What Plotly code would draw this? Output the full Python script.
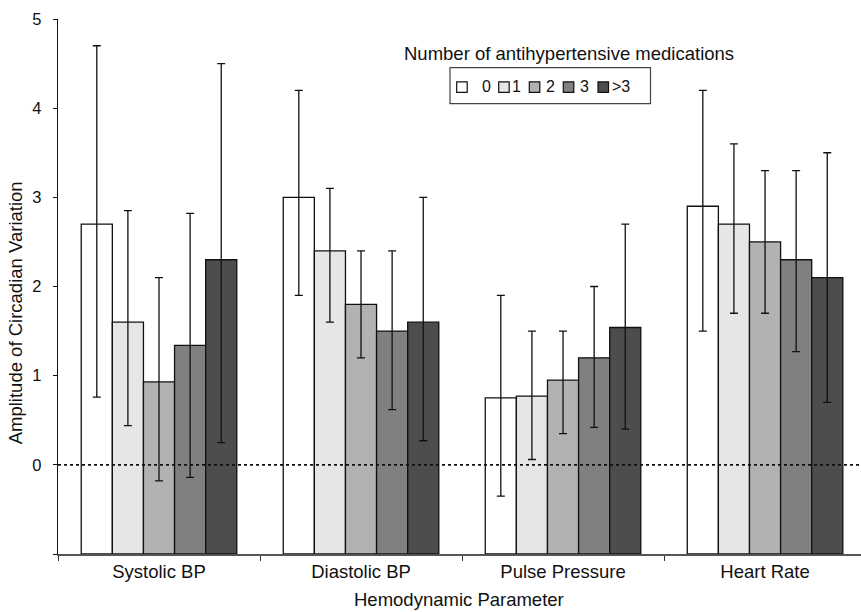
import plotly.graph_objects as go

categories = ["Systolic BP", "Diastolic BP", "Pulse Pressure", "Heart Rate"]
groups = ["0", "1", "2", "3", ">3"]

mean_0 = [2.7, 3.0, 0.75, 2.9]
mean_1 = [1.6, 2.4, 0.77, 2.7]
mean_2 = [0.93, 1.8, 0.95, 2.5]
mean_3 = [1.34, 1.5, 1.2, 2.3]
mean_4 = [2.3, 1.6, 1.54, 2.1]

upper_0 = [4.7, 4.2, 1.9, 4.2]
upper_1 = [2.85, 3.1, 1.5, 3.6]
upper_2 = [2.1, 2.4, 1.5, 3.3]
upper_3 = [2.82, 2.4, 2.0, 3.3]
upper_4 = [4.5, 3.0, 2.7, 3.5]

lower_0 = [0.76, 1.9, -0.35, 1.5]
lower_1 = [0.44, 1.6, 0.06, 1.7]
lower_2 = [-0.18, 1.2, 0.35, 1.7]
lower_3 = [-0.14, 0.62, 0.42, 1.27]
lower_4 = [0.25, 0.27, 0.4, 0.7]

y_min, y_max = -1, 5
y_tick_vals = [-1, 0, 1, 2, 3, 4, 5]
y_tick_text = ["", "0", "1", "2", "3", "4", "5"]

means = [mean_0, mean_1, mean_2, mean_3, mean_4]
uppers = [upper_0, upper_1, upper_2, upper_3, upper_4]
lowers = [lower_0, lower_1, lower_2, lower_3, lower_4]
colors = ["#ffffff", "#e6e6e6", "#b2b2b2", "#808080", "#4d4d4d"]

FONT = "Liberation Sans, Arial, sans-serif"
W, H = 861, 612
L, R, T, B = 58, 0, 18.7, 58.3

fig = go.Figure()
for g, m, u, lo, c in zip(groups, means, uppers, lowers, colors):
    fig.add_trace(go.Bar(
        x=categories, y=[v - y_min for v in m], base=y_min, name=g,
        marker=dict(color=c, line=dict(color="#111111", width=1.3)),
        error_y=dict(type="data", symmetric=False,
                     array=[a - b for a, b in zip(u, m)],
                     arrayminus=[b - a for a, b in zip(lo, m)],
                     color="#111111", thickness=1.3, width=4),
        showlegend=False,
    ))

def px_x(px):
    return (px - L) / (W - L - R)

def px_y(py):
    return (H - B - py) / (H - B - T)

shapes = [
    dict(type="line", xref="paper", yref="y", x0=0, x1=1, y0=0, y1=0,
         line=dict(color="#111111", width=1.6, dash="dot"), layer="above"),
    dict(type="rect", xref="paper", yref="paper",
         x0=px_x(450), x1=px_x(650.5), y0=px_y(103.3), y1=px_y(67.3),
         line=dict(color="#444444", width=1.2), fillcolor="white"),
]
annotations = [
    dict(text="Number of antihypertensive medications", xref="paper", yref="paper",
         x=px_x(569), y=px_y(53), showarrow=False, xanchor="center", yanchor="middle",
         font=dict(family=FONT, size=18.5, color="#111111")),
    dict(text="Hemodynamic Parameter", xref="paper", yref="paper",
         x=px_x(459), y=px_y(611.5), showarrow=False, xanchor="center", yanchor="bottom",
         font=dict(family=FONT, size=18.5, color="#111111")),
    dict(text="Amplitude of Circadian Variation", xref="paper", yref="paper",
         x=px_x(15), y=px_y(313), showarrow=False, xanchor="center", yanchor="middle",
         textangle=-90, font=dict(family=FONT, size=18.5, color="#111111")),
]
sq_left = [456.7, 498.7, 529.3, 563.3, 598]
txt_left = [479.5, 509.5, 544, 578, 610]
for g, c, sx, tx in zip(groups, colors, sq_left, txt_left):
    shapes.append(dict(type="rect", xref="paper", yref="paper",
                       x0=px_x(sx), x1=px_x(sx + 10.5), y0=px_y(92), y1=px_y(81.5),
                       line=dict(color="#111111", width=1.2), fillcolor=c))
    annotations.append(dict(text=g, xref="paper", yref="paper", x=px_x(tx), y=px_y(86.7),
                            showarrow=False, xanchor="left", yanchor="middle",
                            font=dict(family=FONT, size=16, color="#111111")))

fig.update_layout(
    width=W, height=H,
    margin=dict(l=L, r=R, t=T, b=B, autoexpand=False),
    paper_bgcolor="white", plot_bgcolor="white",
    barmode="group", bargap=0.23, bargroupgap=0,
    font=dict(family=FONT, color="#111111"),
    shapes=shapes, annotations=annotations,
    xaxis=dict(
        type="category", range=[-0.5, 3.475], tickson="boundaries",
        ticks="outside", ticklen=5, tickcolor="#333333",
        showline=True, linecolor="#555555", linewidth=1.5,
        showgrid=False, zeroline=False,
        tickfont=dict(family=FONT, size=18.5, color="#111111"),
    ),
    yaxis=dict(
        range=[y_min, y_max], tickvals=y_tick_vals, ticktext=y_tick_text,
        ticks="outside", ticklen=4, tickcolor="#111111",
        showline=True, linecolor="#111111", linewidth=1.3,
        showgrid=False, zeroline=False, ticklabelstandoff=8,
        tickfont=dict(family=FONT, size=16.5, color="#111111"),
    ),
)

fig.write_html(
    "out.html",
    config={"displayModeBar": False},
    post_script="document.body.style.margin='0';document.body.style.padding='0';",
)
